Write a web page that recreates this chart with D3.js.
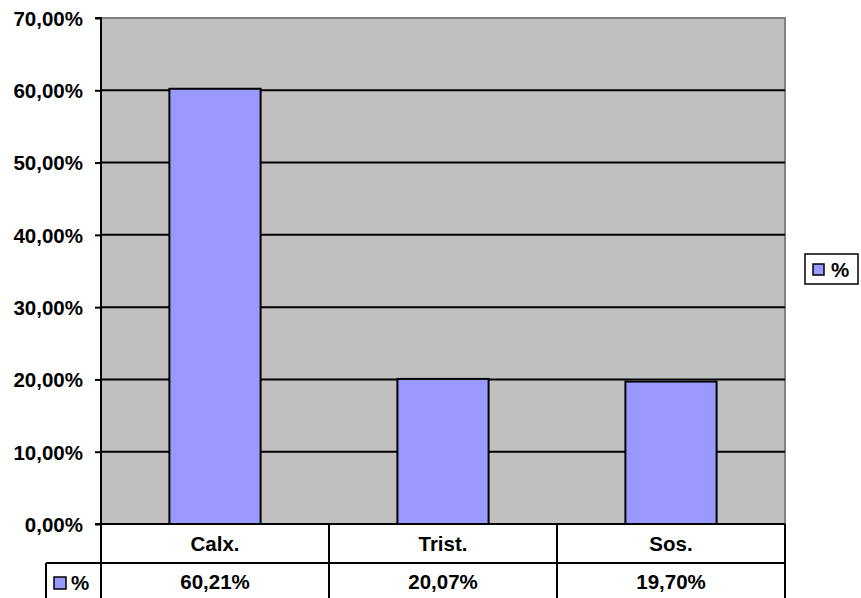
<!DOCTYPE html>
<html><head><meta charset="utf-8">
<script src="https://cdn.jsdelivr.net/npm/d3@7"></script>
<style>html,body{margin:0;padding:0;background:#fff;}svg{display:block;}</style>
</head><body>
<svg id="c" width="861" height="598"></svg>
<script>
const categories = ["Calx.", "Trist.", "Sos."];
const values = [60.21, 20.07, 19.70];
const seriesName = "%";
const yTicks = [0, 10, 20, 30, 40, 50, 60, 70];

const svg = d3.select("#c");
const font = "'Liberation Sans', Arial, sans-serif";
const fs = 20.5;
const L = 101, R = 785, T = 18, B = 524;
const fmt = v => d3.format(".2f")(v).replace(".", ",") + "%";

const x = d3.scaleBand().domain(categories).range([L, R]).paddingInner(0.6).paddingOuter(0.3);
const xb = d3.scaleBand().domain(categories).range([L, R]);
const y = d3.scaleLinear().domain([0, 70]).range([B, T]);

svg.append("rect").attr("x", L).attr("y", T).attr("width", R - L).attr("height", B - T)
  .attr("fill", "#c0c0c0");
svg.append("path").attr("d", `M${L},${T}H${R}V${B}`).attr("fill", "none")
  .attr("stroke", "#808080").attr("stroke-width", 2);

svg.append("g").selectAll("line").data(yTicks.filter(d => d > 0 && d < 70)).join("line")
  .attr("x1", L).attr("x2", R).attr("y1", d => y(d)).attr("y2", d => y(d))
  .attr("stroke", "#000").attr("stroke-width", 2);

svg.append("g").selectAll("rect").data(values).join("rect")
  .attr("x", (d, i) => x(categories[i]))
  .attr("y", d => y(d))
  .attr("width", x.bandwidth())
  .attr("height", d => B - y(d))
  .attr("fill", "#9999ff").attr("stroke", "#000").attr("stroke-width", 2);

const yAxis = d3.axisLeft(y).tickValues(yTicks).tickSize(6).tickFormat(d => fmt(d));
const ga = svg.append("g").attr("transform", `translate(${L},0)`).call(yAxis);
ga.select(".domain").attr("stroke", "#000").attr("stroke-width", 2).attr("d", `M-6,${T}H0V${B}`);
ga.selectAll(".tick line").attr("stroke", "#000").attr("stroke-width", 2);
ga.selectAll(".tick text").attr("x", -18).attr("dy", "0.36em")
  .attr("font-family", font).attr("font-weight", "bold").attr("font-size", fs).attr("fill", "#000");

const r1 = 563, r2 = 601, tL = 46;
const tbl = svg.append("g").attr("stroke", "#000").attr("stroke-width", 2);
tbl.append("line").attr("x1", L - 6).attr("x2", R).attr("y1", B).attr("y2", B);
tbl.append("line").attr("x1", tL).attr("x2", R).attr("y1", r1).attr("y2", r1);
tbl.append("line").attr("x1", tL).attr("x2", R).attr("y1", r2).attr("y2", r2);
tbl.append("line").attr("x1", tL).attr("x2", tL).attr("y1", r1).attr("y2", r2);
tbl.append("line").attr("x1", L).attr("x2", L).attr("y1", B).attr("y2", r2);
tbl.selectAll(".v").data(categories).join("line").attr("class", "v")
  .attr("x1", d => xb(d) + xb.bandwidth()).attr("x2", d => xb(d) + xb.bandwidth())
  .attr("y1", B).attr("y2", r2);

svg.append("g").selectAll("text").data(categories).join("text")
  .attr("x", d => xb(d) + xb.bandwidth() / 2).attr("y", 551)
  .attr("text-anchor", "middle").attr("font-family", font).attr("font-weight", "bold")
  .attr("font-size", fs).text(d => d);
svg.append("g").selectAll("text").data(values).join("text")
  .attr("x", (d, i) => xb(categories[i]) + xb.bandwidth() / 2).attr("y", 589)
  .attr("text-anchor", "middle").attr("font-family", font).attr("font-weight", "bold")
  .attr("font-size", fs).text(d => fmt(d));

svg.append("rect").attr("x", 54).attr("y", 577).attr("width", 12).attr("height", 12)
  .attr("fill", "#9999ff").attr("stroke", "#000").attr("stroke-width", 1.5);
svg.append("text").attr("x", 71).attr("y", 590).attr("font-family", font).attr("font-weight", "bold")
  .attr("font-size", fs).text(seriesName);

const lg = svg.append("g");
lg.append("rect").attr("x", 805).attr("y", 254).attr("width", 53).attr("height", 30)
  .attr("fill", "#fff").attr("stroke", "#000").attr("stroke-width", 1.5);
lg.append("rect").attr("x", 813).attr("y", 264).attr("width", 11).attr("height", 11)
  .attr("fill", "#9999ff").attr("stroke", "#000").attr("stroke-width", 1.5);
lg.append("text").attr("x", 831).attr("y", 277).attr("font-family", font).attr("font-weight", "bold")
  .attr("font-size", fs).text(seriesName);
</script>
</body></html>
